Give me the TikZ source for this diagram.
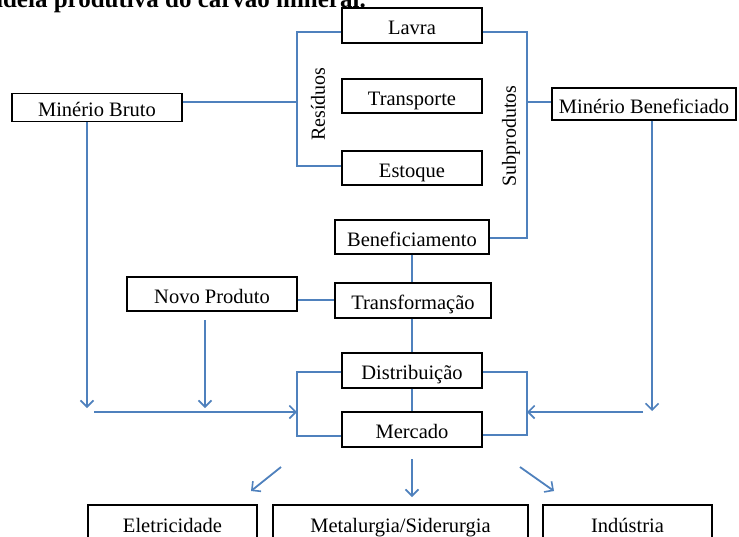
\documentclass[tikz,border=0pt]{standalone}
\usepackage{fontspec}
\setmainfont{Liberation Serif}
\usetikzlibrary{arrows.meta}
\definecolor{linkblue}{RGB}{79,129,189}
\tikzset{
  box/.style={draw=black, line width=1.3pt, inner sep=0pt, fill=white,
    font=\fontsize{20.5}{23}\selectfont, text height=19pt, text depth=1pt},
  link/.style={draw=linkblue, line width=1.8pt},
  arr/.style={link, -{Straight Barb[length=6.5pt,width=13pt,line width=1.6pt]}},
  side/.style={font=\fontsize{20}{22}\selectfont, rotate=90, inner sep=0pt}
}
\begin{document}
\begin{tikzpicture}[x=1pt,y=-1pt]
\useasboundingbox (0,0) rectangle (739,536);
\clip (0,0) rectangle (739,536);
\fill[white] (0,0) rectangle (739,536);

\node[anchor=base east, inner sep=0pt, font=\bfseries\fontsize{25}{30}\selectfont] (title) at (366,7) {Cadeia produtiva do carvão mineral.};

% boxes
\node[box, minimum width=140pt, minimum height=35pt] (lavra) at (412,25.5) {Lavra};
\node[box, minimum width=140pt, minimum height=34pt] (transp) at (412,96) {Transporte};
\node[box, minimum width=140pt, minimum height=34pt] (estoque) at (412,168) {Estoque};
\node[box, minimum width=170pt, minimum height=28pt] (mbruto) at (97,107.5) {Minério Bruto};
\node[box, minimum width=184pt, minimum height=32pt] (mbenef) at (644,104) {Minério Beneficiado};
\node[box, minimum width=154pt, minimum height=34pt] (benef) at (412,237) {Beneficiamento};
\node[box, minimum width=156pt, minimum height=35pt] (transf) at (413,300.5) {Transformação};
\node[box, minimum width=170pt, minimum height=34pt] (novo) at (212,294) {Novo Produto};
\node[box, minimum width=140pt, minimum height=35pt] (distrib) at (412,370.5) {Distribuição};
\node[box, minimum width=140pt, minimum height=35pt] (mercado) at (412,429.5) {Mercado};
\node[box, minimum width=169pt, minimum height=37pt] (eletr) at (172.5,523.5) {Eletricidade};
\node[box, minimum width=255pt, minimum height=37pt] (metal) at (400.5,523.5) {Metalurgia/Siderurgia};
\node[box, minimum width=169pt, minimum height=37pt] (indus) at (627.5,523.5) {Indústria};

% side labels
\node[side] (resid) at (318,104) {Resíduos};
\node[side] (subp) at (511,136) {Subprodutos};

% coordinates
\coordinate (rl) at (297,102);
\coordinate (rr) at (527,102);
\coordinate (jl) at (297,412);
\coordinate (jr) at (527,412);
\coordinate (hl) at (94,412);
\coordinate (hr) at (643,412);
\coordinate (bd) at (87,408);
\coordinate (nd) at (205,408);
\coordinate (md) at (652,411);
\coordinate (ns) at (205,320);
\coordinate (a1s) at (281,467);
\coordinate (a1e) at (251,491);
\coordinate (a2s) at (412,459);
\coordinate (a2e) at (412,497);
\coordinate (a3s) at (520,467);
\coordinate (a3e) at (554,491);

% residuos bracket
\draw[link] (lavra.west |- 0,32) -- (297,32) -- (297,166) -- (estoque.west |- 0,166);
\draw[link] (mbruto.east |- rl) -- (rl);
% subprodutos bracket
\draw[link] (lavra.east |- 0,32) -- (527,32) -- (527,238) -- (benef.east |- 0,238);
\draw[link] (rr) -- (mbenef.west |- rr);
% chain
\draw[link] (benef.south) -- (benef.south |- transf.north);
\draw[link] (novo.east |- 0,300) -- (transf.west |- 0,300);
\draw[link] (transf.south -| distrib.north) -- (distrib.north);
\draw[link] (distrib.south) -- (mercado.north);
% market brackets
\draw[link] (distrib.west |- 0,372) -- (297,372) -- (297,436) -- (mercado.west |- 0,436);
\draw[link] (distrib.east |- 0,372) -- (527,372) -- (527,435) -- (mercado.east |- 0,435);
% arrows into market
\draw[arr] (mbruto.south -| bd) -- (bd);
\draw[arr] (ns) -- (nd);
\draw[arr] (mbenef.south -| md) -- (md);
\draw[arr] (hl) -- (jl);
\draw[arr] (hr) -- (jr);
% arrows out of market
\draw[arr] (a1s) -- (a1e);
\draw[arr] (a2s) -- (a2e);
\draw[arr] (a3s) -- (a3e);
\end{tikzpicture}
\end{document}
